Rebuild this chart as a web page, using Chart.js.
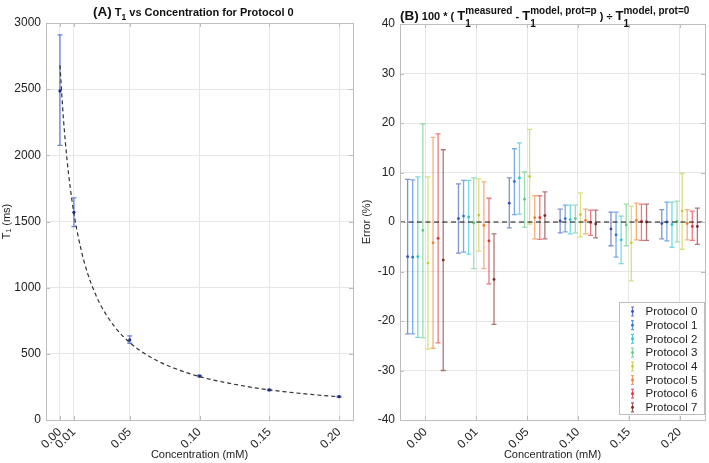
<!DOCTYPE html>
<html>
<head>
<meta charset="utf-8">
<script src="https://cdn.jsdelivr.net/npm/chart.js@4.4.0/dist/chart.umd.min.js"></script>
<style>
body { margin: 0; background: #fff; }
#wrap { position: relative; width: 709px; height: 463px; overflow: hidden; font-family: "Liberation Sans", Arial, sans-serif; color: #111; }
canvas { position: absolute; top: 0; }
#cA { left: 0; }
#cB { left: 360px; }
.title { position: absolute; top: 4px; font-weight: bold; font-size: 11px; line-height: 16px; white-space: nowrap; }
.big { font-size: 13.5px; }
.T { font-size: 13px; }
.st { display: inline-flex; flex-direction: column; font-size: 10px; line-height: 13px; vertical-align: 6px; }
.sub1 { font-size: 8.5px; }
</style>
</head>
<body>
<div id="wrap">
  <canvas id="cA" width="360" height="463"></canvas>
  <canvas id="cB" width="349" height="463"></canvas>
  <div class="title" style="left:93px"><span class="big">(A)</span> T<sub class="sub1" style="vertical-align:-4px;font-size:8.5px">1</sub> vs Concentration for Protocol 0</div>
  <div class="title" style="left:400px"><span class="big">(B)</span> 100 * ( <span class="T">T</span><span class="st"><span>measured</span><span>1</span></span> - <span class="T">T</span><span class="st"><span>model, prot=p</span><span>1</span></span> ) ÷ <span class="T">T</span><span class="st"><span>model, prot=0</span><span>1</span></span></div>
</div>
<script>
// panel A: measured T1 for protocol 0
const concA = [0, 0.01, 0.05, 0.10, 0.15, 0.20];
const t1Mean = [2487, 1570, 605, 332, 227, 176];
const t1Low = [2076, 1461, 580, 326, 222, 171];
const t1High = [2910, 1678, 635, 338, 232, 181];

// dashed model curve
const curveConc = [0, 0.0025, 0.005, 0.0075, 0.01, 0.015, 0.02, 0.025, 0.03, 0.04, 0.05, 0.06, 0.07, 0.08, 0.10, 0.12, 0.14, 0.16, 0.18, 0.20];
const curveT1 = [2680, 2275, 1975, 1745, 1562, 1293, 1102, 961, 852, 694, 585, 506, 446, 399, 328, 280, 243, 215, 193, 175];

// panel B: percent error per protocol, one value per concentration
const concLabels = ['0.00', '0.01', '0.05', '0.10', '0.15', '0.20'];
const protocols = ['Protocol 0', 'Protocol 1', 'Protocol 2', 'Protocol 3', 'Protocol 4', 'Protocol 5', 'Protocol 6', 'Protocol 7'];
const errMean = [
    [-7.0, 0.7, 3.8, 0.2, -1.4, -0.3],
    [-7.1, 1.2, 8.2, 0.7, -2.6, 0.0],
    [-7.0, 1.0, 8.9, 0.5, -3.6, -0.5],
    [-1.7, -0.2, 4.6, 0.7, -0.6, 0.1],
    [-8.3, 1.4, 9.2, 1.5, -4.2, 2.2],
    [-4.2, -0.7, 0.9, 0.3, 0.3, -0.3],
    [-3.3, -3.8, 0.9, -0.1, 0.1, -0.9],
    [-7.7, -11.6, 1.3, -0.4, 0.0, -0.9]
];
const errLow = [
    [-22.6, -6.3, -1.2, -2.2, -4.8, -3.4],
    [-22.6, -6.1, 1.5, -2.0, -7.1, -3.8],
    [-23.3, -6.5, 1.6, -2.4, -8.4, -5.1],
    [-23.4, -9.4, -1.1, -2.2, -4.8, -4.0],
    [-25.7, -5.9, -0.4, -3.0, -11.9, -5.5],
    [-25.5, -9.4, -3.4, -2.4, -3.6, -3.6],
    [-24.4, -12.5, -3.5, -2.7, -3.7, -3.7],
    [-30.0, -20.7, -3.4, -3.2, -3.7, -4.5]
];
const errHigh = [
    [8.6, 7.7, 8.9, 2.6, 2.0, 2.5],
    [8.5, 8.4, 14.8, 3.4, 2.0, 4.0],
    [9.1, 8.4, 16.0, 3.4, 1.2, 4.0],
    [19.8, 8.9, 10.1, 3.4, 3.6, 4.2],
    [9.1, 8.7, 18.7, 5.9, 3.2, 9.8],
    [17.1, 8.1, 5.3, 2.6, 3.8, 2.5],
    [17.8, 4.8, 5.3, 2.4, 3.6, 2.2],
    [14.6, -2.4, 6.1, 2.4, 3.6, 2.8]
];

const protoRgb = ['52,78,180', '38,118,220', '36,196,208', '98,200,128', '196,204,48', '238,128,48', '226,44,56', '128,36,36'];

const gridColor = '#e6e6e6';
const frameColor = '#bdbdbd';
const textColor = '#222';
const fontFam = '"Liberation Sans", Arial, sans-serif';

Chart.defaults.font.family = fontFam;
Chart.defaults.color = textColor;
Chart.defaults.devicePixelRatio = 1;

// vertical error bars drawn through the y scale
const errorBars = {
    id: 'errorBars',
    beforeDatasetsDraw(chart) {
        const ctx = chart.ctx;
        const yScale = chart.scales.y;
        chart.data.datasets.forEach((ds, i) => {
            if (!ds.errLow) return;
            const meta = chart.getDatasetMeta(i);
            ctx.save();
            ctx.strokeStyle = ds.barColor;
            ctx.lineWidth = 1.3;
            meta.data.forEach((pt, j) => {
                const x = pt.x;
                const y1 = yScale.getPixelForValue(ds.errLow[j]);
                const y2 = yScale.getPixelForValue(ds.errHigh[j]);
                ctx.beginPath();
                ctx.moveTo(x, y1); ctx.lineTo(x, y2);
                ctx.moveTo(x - 2.5, y1); ctx.lineTo(x + 2.5, y1);
                ctx.moveTo(x - 2.5, y2); ctx.lineTo(x + 2.5, y2);
                ctx.stroke();
            });
            ctx.restore();
        });
    }
};

// matlab style box with inward ticks
const frame = {
    id: 'frame',
    afterDatasetsDraw(chart) {
        const ctx = chart.ctx;
        const a = chart.chartArea;
        ctx.save();
        ctx.strokeStyle = frameColor;
        ctx.lineWidth = 1;
        ctx.strokeRect(Math.round(a.left) + 0.5, Math.round(a.top) + 0.5, Math.round(a.right - a.left), Math.round(a.bottom - a.top));
        ctx.beginPath();
        chart.scales.x.ticks.forEach(t => {
            const x = Math.round(chart.scales.x.getPixelForValue(t.value)) + 0.5;
            ctx.moveTo(x, a.bottom); ctx.lineTo(x, a.bottom - 4);
            ctx.moveTo(x, a.top); ctx.lineTo(x, a.top + 4);
        });
        chart.scales.y.ticks.forEach(t => {
            const y = Math.round(chart.scales.y.getPixelForValue(t.value)) + 0.5;
            ctx.moveTo(a.left, y); ctx.lineTo(a.left + 4, y);
            ctx.moveTo(a.right, y); ctx.lineTo(a.right - 4, y);
        });
        ctx.stroke();
        ctx.restore();
    }
};

const zeroLine = {
    id: 'zeroLine',
    afterDatasetsDraw(chart) {
        const ctx = chart.ctx;
        const a = chart.chartArea;
        const y = chart.scales.y.getPixelForValue(0);
        ctx.save();
        ctx.strokeStyle = '#111';
        ctx.lineWidth = 1.2;
        ctx.setLineDash([5, 3.5]);
        ctx.beginPath();
        ctx.moveTo(a.left, y); ctx.lineTo(a.right, y);
        ctx.stroke();
        ctx.restore();
    }
};

const boxLegend = {
    id: 'boxLegend',
    afterDraw(chart) {
        const ctx = chart.ctx;
        const a = chart.chartArea;
        const w = 85, h = 112, rowH = 13.7;
        const left = a.right - 1.5 - w, top = a.bottom - 6 - h;
        ctx.save();
        ctx.fillStyle = '#fff';
        ctx.fillRect(left, top, w, h);
        ctx.strokeStyle = '#bdbdbd';
        ctx.lineWidth = 1;
        ctx.strokeRect(Math.round(left) + 0.5, Math.round(top) + 0.5, w, h);
        ctx.font = '11.5px ' + fontFam;
        ctx.textBaseline = 'middle';
        protocols.forEach((name, p) => {
            const y = top + 9.5 + p * rowH;
            const x = left + 14;
            ctx.strokeStyle = 'rgba(' + protoRgb[p] + ',0.75)';
            ctx.lineWidth = 1.2;
            ctx.beginPath();
            ctx.moveTo(x, y - 4.5); ctx.lineTo(x, y + 4.5);
            ctx.moveTo(x - 1.5, y - 4.5); ctx.lineTo(x + 1.5, y - 4.5);
            ctx.moveTo(x - 1.5, y + 4.5); ctx.lineTo(x + 1.5, y + 4.5);
            ctx.stroke();
            ctx.fillStyle = 'rgb(' + protoRgb[p] + ')';
            ctx.beginPath(); ctx.arc(x, y, 1.4, 0, Math.PI * 2); ctx.fill();
            ctx.fillStyle = textColor;
            ctx.fillText(name, left + 27, y + 0.5);
        });
        ctx.restore();
    }
};

function axisBase() {
    return {
        grid: { color: gridColor, drawTicks: false },
        border: { display: false },
        ticks: { font: { size: 12 }, color: textColor }
    };
}

// ---- panel A ----
const xA = axisBase();
Object.assign(xA, {
    type: 'linear', min: -0.01, max: 0.21,
    afterBuildTicks: s => { s.ticks = concA.map(v => ({ value: v })); },
    afterFit: s => { s.height = 43; },
    title: { display: true, text: 'Concentration (mM)', font: { size: 11 }, padding: { top: 0, bottom: 1 } }
});
Object.assign(xA.ticks, { minRotation: 45, maxRotation: 45, autoSkip: false, padding: 5, callback: v => Number(v).toFixed(2) });

const yA = axisBase();
Object.assign(yA, {
    min: 0, max: 3000,
    afterFit: s => { s.width = 46; },
    title: { display: true, text: 'T₁ (ms)', font: { size: 11 }, padding: { top: 0, bottom: 0 } }
});
Object.assign(yA.ticks, { stepSize: 500, padding: 5, callback: v => String(v) });

new Chart(document.getElementById('cA'), {
    type: 'scatter',
    data: {
        datasets: [{
            type: 'line',
            data: curveConc.map((c, i) => ({ x: c, y: curveT1[i] })),
            borderColor: '#333',
            borderWidth: 1.2,
            borderDash: [4, 3],
            pointRadius: 0,
            cubicInterpolationMode: 'monotone',
            fill: false
        }, {
            data: concA.map((c, i) => ({ x: c, y: t1Mean[i] })),
            errLow: t1Low,
            errHigh: t1High,
            barColor: 'rgba(70,100,205,0.8)',
            pointRadius: 1.6,
            pointBackgroundColor: '#1b2a8a',
            pointBorderWidth: 0
        }]
    },
    options: {
        responsive: false,
        animation: false,
        layout: { padding: { top: 23, right: 7, left: 0, bottom: 0 } },
        plugins: { legend: { display: false }, tooltip: { enabled: false } },
        scales: { x: xA, y: yA }
    },
    plugins: [errorBars, frame]
});

// ---- panel B ----
const xB = axisBase();
Object.assign(xB, {
    type: 'linear', min: -0.5, max: 5.5,
    afterBuildTicks: s => { s.ticks = concLabels.map((_, i) => ({ value: i })); },
    afterFit: s => { s.height = 43; },
    title: { display: true, text: 'Concentration (mM)', font: { size: 11 }, padding: { top: 0, bottom: 1 } }
});
Object.assign(xB.ticks, { minRotation: 45, maxRotation: 45, autoSkip: false, padding: 5, callback: v => concLabels[v] });

const yB = axisBase();
Object.assign(yB, {
    min: -40, max: 40,
    afterFit: s => { s.width = 40; },
    title: { display: true, text: 'Error (%)', font: { size: 11 }, padding: { top: 0, bottom: 0 } }
});
Object.assign(yB.ticks, { stepSize: 10, padding: 5, callback: v => String(v) });

new Chart(document.getElementById('cB'), {
    type: 'scatter',
    data: {
        datasets: protocols.map((name, p) => ({
            label: name,
            data: concLabels.map((_, i) => ({ x: i + (p - 3.5) * 0.1, y: errMean[p][i] })),
            errLow: errLow[p],
            errHigh: errHigh[p],
            barColor: 'rgba(' + protoRgb[p] + ',0.62)',
            pointRadius: 1.4,
            pointBackgroundColor: 'rgb(' + protoRgb[p] + ')',
            pointBorderWidth: 0
        }))
    },
    options: {
        responsive: false,
        animation: false,
        layout: { padding: { top: 24, right: 1, left: 0, bottom: 0 } },
        plugins: { legend: { display: false }, tooltip: { enabled: false } },
        scales: { x: xB, y: yB }
    },
    plugins: [errorBars, zeroLine, frame, boxLegend]
});
</script>
</body>
</html>
